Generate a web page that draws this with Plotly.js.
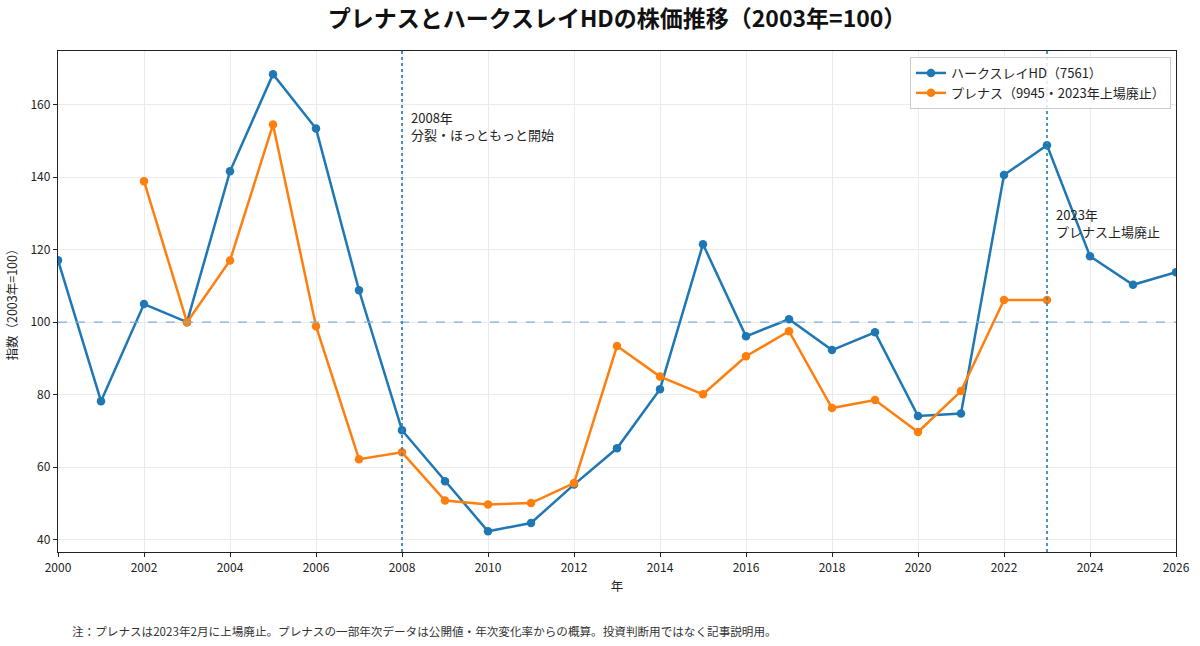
<!DOCTYPE html>
<html>
<head>
<meta charset="utf-8">
<script src="https://cdn.plot.ly/plotly-3.0.1.min.js"></script>
<style>html,body{margin:0;padding:0;background:#fff;}#chart{width:1200px;height:646px;}</style>
</head>
<body>
<div id="chart"></div>
<script>
const yearsHD = [2000,2001,2002,2003,2004,2005,2006,2007,2008,2009,2010,2011,2012,2013,2014,2015,2016,2017,2018,2019,2020,2021,2022,2023,2024,2025,2026];
const valuesHD = [117.1,78.2,105.0,100.0,141.6,168.4,153.4,108.8,70.2,56.1,42.3,44.6,55.2,65.2,81.5,121.5,96.1,100.8,92.3,97.2,74.1,74.8,140.6,148.8,118.2,110.3,113.8];
const yearsPL = [2002,2003,2004,2005,2006,2007,2008,2009,2010,2011,2012,2013,2014,2015,2016,2017,2018,2019,2020,2021,2022,2023];
const valuesPL = [138.9,100.0,117.0,154.5,98.9,62.2,64.1,50.8,49.7,50.1,55.6,93.4,85.0,80.1,90.6,97.5,76.3,78.5,69.7,81.0,106.1,106.1];
const nameHD = 'ハークスレイHD（7561）';
const namePL = 'プレナス（9945・2023年上場廃止）';
const xTicks = [2000,2002,2004,2006,2008,2010,2012,2014,2016,2018,2020,2022,2024,2026];
const yTicks = [40,60,80,100,120,140,160];
const eventYears = [2008, 2023];
const eventLabels = ['2008年<br>分裂・ほっともっと開始', '2023年<br>プレナス上場廃止'];
const eventLabelY = [159.6, 133.0];
const baseValue = 100;

const FONT = '"Noto Sans CJK JP", "Noto Sans", sans-serif';

const traces = [
  {x: yearsHD, y: valuesHD, name: nameHD, mode: 'lines+markers', type: 'scatter',
   line: {color: '#1f77b4', width: 2.5}, marker: {color: '#1f77b4', size: 8.5}},
  {x: yearsPL, y: valuesPL, name: namePL, mode: 'lines+markers', type: 'scatter',
   line: {color: '#ff7f0e', width: 2.5}, marker: {color: '#ff7f0e', size: 8.5}}
];

const shapes = [
  {type: 'line', xref: 'paper', x0: 0, x1: 1, yref: 'y', y0: baseValue, y1: baseValue,
   line: {color: '#7fb0d6', width: 1.3, dash: 'dash'}, layer: 'above'}
];
eventYears.forEach(yr => shapes.push({
  type: 'line', xref: 'x', x0: yr, x1: yr, yref: 'paper', y0: 0, y1: 1,
  line: {color: '#3a87bd', width: 1.8, dash: 'dot'}, layer: 'above'
}));

const annotations = eventYears.map((yr, i) => ({
  x: yr, y: eventLabelY[i], xref: 'x', yref: 'y', text: eventLabels[i],
  showarrow: false, xanchor: 'left', yanchor: 'top', align: 'left', xshift: 7,
  font: {family: FONT, size: 13, color: '#222'}
}));
annotations.push({
  x: 0.0107, y: -0.158, xref: 'paper', yref: 'paper', xanchor: 'left', yanchor: 'middle',
  showarrow: false, align: 'left',
  text: '注：プレナスは2023年2月に上場廃止。プレナスの一部年次データは公開値・年次変化率からの概算。投資判断用ではなく記事説明用。',
  font: {family: FONT, size: 11.6, color: '#333'}
});

const layout = {
  width: 1200, height: 646,
  margin: {l: 58, r: 24, t: 51, b: 94},
  paper_bgcolor: '#fff', plot_bgcolor: '#fff',
  font: {family: FONT, size: 12, color: '#222'},
  title: {text: '<b>プレナスとハークスレイHDの株価推移（2003年=100）</b>', x: 0.5, xref: 'paper',
          y: 0.971, yref: 'container', yanchor: 'middle',
          font: {family: FONT, size: 23, color: '#111'}},
  showlegend: true,
  legend: {x: 0.9955, y: 0.988, xanchor: 'right', yanchor: 'top',
           bgcolor: 'rgba(255,255,255,0.85)', bordercolor: '#cccccc', borderwidth: 1,
           font: {family: FONT, size: 13, color: '#222'}, tracegroupgap: 0},
  xaxis: {range: [2000, 2026], tickvals: xTicks, ticktext: xTicks.map(String),
          showgrid: true, gridcolor: '#ebebeb', gridwidth: 1, zeroline: false,
          showline: true, linecolor: '#222', linewidth: 1.2, mirror: true,
          ticks: 'outside', ticklen: 4, tickcolor: '#222',
          tickfont: {family: FONT, size: 12, color: '#222'},
          title: {text: '年', font: {family: FONT, size: 12.5, color: '#222'}, standoff: 8}},
  yaxis: {range: [36.6, 174.8], tickvals: yTicks, ticktext: yTicks.map(String),
          showgrid: true, gridcolor: '#ebebeb', gridwidth: 1, zeroline: false,
          showline: true, linecolor: '#222', linewidth: 1.2, mirror: true,
          ticks: 'outside', ticklen: 4, tickcolor: '#222',
          tickfont: {family: FONT, size: 12, color: '#222'},
          title: {text: '指数（2003年=100）', font: {family: FONT, size: 12.5, color: '#222'}, standoff: 10}},
  shapes: shapes,
  annotations: annotations
};

Plotly.newPlot('chart', traces, layout, {displayModeBar: false, staticPlot: true});
</script>
</body>
</html>
